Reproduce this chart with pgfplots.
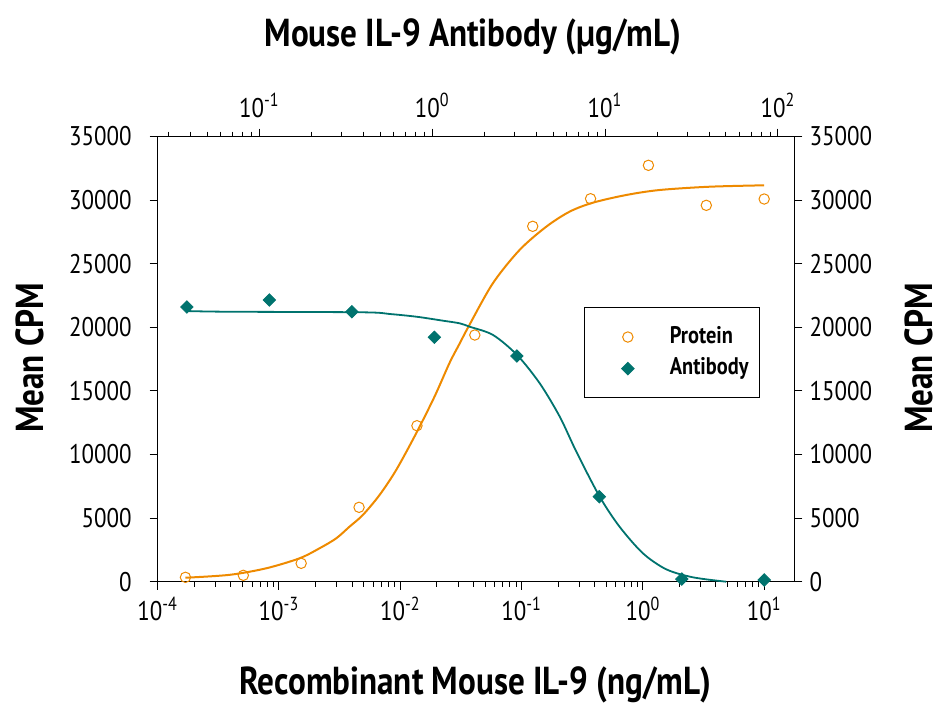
\documentclass[border=0pt]{standalone}
\usepackage{fontspec}
\setmainfont[FakeStretch=0.85]{PT Sans}
\usepackage{pgfplots}
\pgfplotsset{compat=1.18}

\definecolor{protein}{RGB}{238,138,0}
\definecolor{antibody}{RGB}{0,115,110}

\newcommand\ticksz{\fontsize{13.5}{15}\selectfont}
\newcommand\labsz{\fontsize{19.5}{22}\selectfont\bfseries}

\pgfplotsset{
  cpm/.style={
    scale only axis, width=318.4pt, height=222.6pt,
    log basis x=10,
    ymin=0, ymax=35000,
    ytick={0,5000,...,35000},
    scaled y ticks=false,
    tick align=outside,
    major tick length=4pt, minor tick length=2.5pt,
    axis line style={line width=0.5pt},
    every tick/.style={black, line width=0.5pt},
    tick label style={font=\ticksz},
    yticklabel style={/pgf/number format/1000 sep={}, /pgf/number format/assume math mode=true},
    xticklabel={10\textsuperscript{\pgfmathprintnumber[int detect, assume math mode=true]{\tick}}},
    clip=false,
  },
  legimg/.style={legend image code/.code={
    \path[draw=none, fill=none] (0pt,-4pt) rectangle (34pt,4pt);
    \draw[##1] plot coordinates {(21.5pt,0pt)};}},
}

\begin{document}
\begin{tikzpicture}
% bottom / left axis : protein in ng/mL
\begin{semilogxaxis}[cpm, name=main,
    xmin=1e-4, xmax=17.78,
    axis x line*=bottom, axis y line*=left,
    yticklabel style={xshift=-5.5pt},
    xlabel={Recombinant Mouse IL-9 (ng/mL)},
    xlabel style={font=\labsz, at={(axis description cs:0.499,-0.232)}, anchor=center},
    ylabel={Mean CPM},
    ylabel style={font=\labsz, at={(axis description cs:-0.2005,0.503)}, anchor=center},
  ]
  % fitted curve
  \addplot[protein, line width=1pt, smooth, forget plot] coordinates {
    (1.694e-4,314) (3.908e-4,540) (7.834e-4,1053) (1.476e-3,1840)
    (2.158e-3,2626) (2.965e-3,3412) (3.811e-3,4324) (4.909e-3,5244)
    (6.745e-3,6816) (9.247e-3,8781) (1.352e-2,11667) (1.914e-2,14544)
    (2.547e-2,17200) (3.076e-2,18700) (3.673e-2,20100) (5.794e-2,23459)
    (9.616e-2,26077) (0.1596,27909) (0.2483,29088) (0.3864,29796)
    (0.7278,30401) (1.371,30794) (3.540,31053) (10,31164)
  };
  \addplot[protein, only marks, mark=o, mark size=2.6pt, line width=0.5pt] coordinates {
    (1.694e-4,346) (5.08e-4,503) (1.524e-3,1447) (4.572e-3,5849)
    (1.372e-2,12264) (4.115e-2,19395) (0.1235,27940) (0.3704,30110)
    (1.111,32736) (3.333,29590) (10,30086)
  };
\end{semilogxaxis}
% top / right axis : antibody in ug/mL
\begin{semilogxaxis}[cpm,
    xmin=0.02582, xmax=124.7,
    axis x line*=top, axis y line*=right,
    xticklabel style={yshift=2pt},
    xlabel={Mouse IL-9 Antibody (µg/mL)},
    xlabel style={font=\labsz, at={(axis description cs:0.495,1.2235)}, anchor=center},
    ylabel={Mean CPM},
    ylabel style={font=\labsz, at={(axis description cs:1.1955,0.503)}, anchor=center},
    legend style={at={(axis description cs:0.670,0.6163)}, anchor=north west,
      draw=black, line width=0.5pt, inner xsep=0pt, inner ysep=8.6pt,
      font=\fontsize{12}{14}\selectfont\bfseries,
      row sep=3.8pt,
      nodes={text width=45pt, inner xsep=0pt, inner ysep=0pt, text height=9pt, text depth=3pt, align=left},
      /tikz/every odd column/.append style={column sep=8.5pt}},
    legend cell align=left,
  ]
  \addlegendimage{protein, only marks, mark=o, mark size=2.6pt, line width=0.5pt, legimg}
  \addlegendentry{Protein}
  \addplot[antibody, line width=0.9pt, smooth, forget plot] coordinates {
    (0.03767,21282) (0.06471,21226) (0.3981,21179) (0.5689,21045)
    (0.8110,20833) (1.156,20519) (1.442,20314) (1.648,20047)
    (2.249,19395) (3.097,17823) (4.188,15597) (5.470,12972)
    (6.823,10220) (9.311,6682) (12.13,4324) (16.56,2233)
    (22.59,975) (32.21,346) (50.23,0)
  };
  \addplot[antibody, only marks, mark=square*, mark size=2.2pt, mark options={rotate=45}, legimg] coordinates {
    (0.0381,21596) (0.1143,22146) (0.3429,21226) (1.029,19214)
    (3.086,17744) (9.259,6682) (27.78,212) (83.33,134)
  };
  \addlegendentry{Antibody}
\end{semilogxaxis}
\pgfresetboundingbox
\path[use as bounding box] ([xshift=-78.85pt, yshift=-66.15pt]main.south west) rectangle ++(475.5pt,357pt);
\end{tikzpicture}
\end{document}
